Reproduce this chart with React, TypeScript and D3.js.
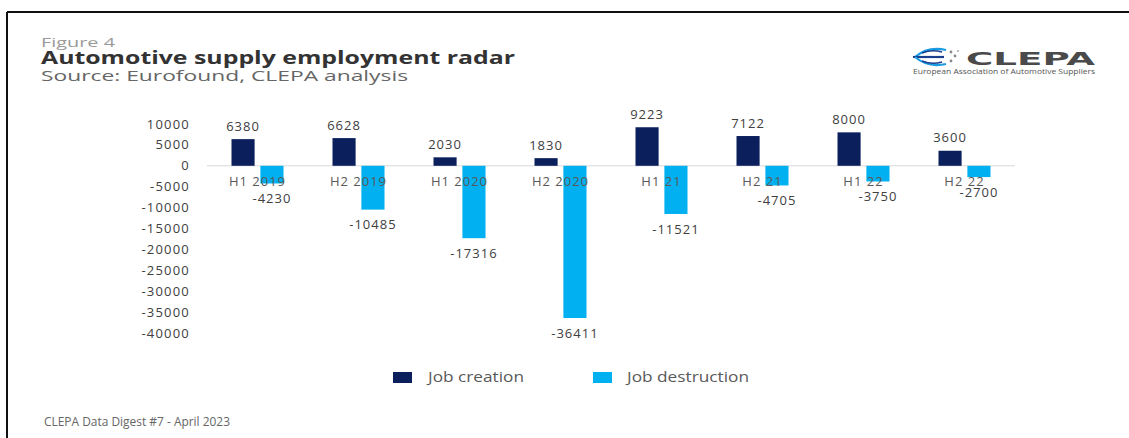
import React from "react";
import * as d3 from "d3";

const categories = ["H1 2019", "H2 2019", "H1 2020", "H2 2020", "H1 21", "H2 21", "H1 22", "H2 22"];
const jobCreation = [6380, 6628, 2030, 1830, 9223, 7122, 8000, 3600];
const jobDestruction = [-4230, -10485, -17316, -36411, -11521, -4705, -3750, -2700];
const yTicks = [10000, 5000, 0, -5000, -10000, -15000, -20000, -25000, -30000, -35000, -40000];
const seriesNames = ["Job creation", "Job destruction"];
const seriesColors = ["#0b1f5c", "#00b0f0"];

const W = 1129;
const H = 438;
const FONT = "'Open Sans', 'DejaVu Sans', sans-serif";

export default function App() {
  const x0 = d3.scaleBand<string>().domain(categories).range([207, 1015]).paddingInner(0).paddingOuter(0);
  const bw = x0.bandwidth();
  const x1 = d3
    .scaleBand<string>()
    .domain(seriesNames)
    .range([bw / 2 - 26, bw / 2 + 26])
    .paddingInner(0.2);
  const y = d3.scaleLinear().domain([-40000, 10000]).range([333, 124]);
  const series = [jobCreation, jobDestruction];

  return (
    <svg
      width={W}
      height={H}
      style={{ position: "absolute", left: 0, top: 0, background: "#fff" }}
      fontFamily={FONT}
    >
      <rect x={0} y={0} width={W} height={H} fill="#fff" />
      {/* border */}
      <line x1={7} y1={12} x2={W} y2={12} stroke="#111" strokeWidth={2} />
      <line x1={7} y1={12} x2={7} y2={H} stroke="#111" strokeWidth={2} />

      {/* header */}
      <text x={41} y={46.5} fontSize={12.5} fill="#9a9a9a" textLength={74} lengthAdjust="spacingAndGlyphs">
        Figure 4
      </text>
      <text x={41} y={63.5} fontSize={17} fontWeight={700} fill="#333" textLength={474} lengthAdjust="spacingAndGlyphs">
        Automotive supply employment radar
      </text>
      <text x={41} y={81} fontSize={15} fill="#666" textLength={367} lengthAdjust="spacingAndGlyphs">
        Source: Eurofound, CLEPA analysis
      </text>

      {/* logo */}
      <g>
        <path d="M915,57 Q928,46 946,50" fill="none" stroke="#1a9be0" strokeWidth={2.2} />
        <path d="M913,57 L944,57" fill="none" stroke="#1a3f8f" strokeWidth={2.2} />
        <path d="M915,57 Q928,68 946,64" fill="none" stroke="#1a9be0" strokeWidth={2.2} />
        <path d="M922,53 Q932,49 942,52" fill="none" stroke="#1a3f8f" strokeWidth={1.4} />
        <path d="M922,61 Q932,65 942,62" fill="none" stroke="#1a3f8f" strokeWidth={1.4} />
        <circle cx={951} cy={52} r={1.4} fill="#888" />
        <circle cx={955} cy={56} r={1.4} fill="#888" />
        <circle cx={951} cy={61} r={1.4} fill="#888" />
        <circle cx={958} cy={51} r={1} fill="#aaa" />
        <text
          x={966}
          y={64.5}
          fontSize={18.5}
          fontWeight={800}
          fill="#4a4a4a"
          fontFamily="'DejaVu Sans', sans-serif"
          textLength={129}
          lengthAdjust="spacingAndGlyphs"
        >
          CLEPA
        </text>
        <text x={913} y={74} fontSize={7} fill="#555" textLength={182} lengthAdjust="spacingAndGlyphs">
          European Association of Automotive Suppliers
        </text>
      </g>

      {/* y ticks */}
      {yTicks.map((t) => (
        <text
          key={t}
          x={190}
          y={y(t)}
          dy="0.35em"
          textAnchor="end"
          fontSize={13}
          letterSpacing={1.2}
          fill="#404040"
        >
          {t}
        </text>
      ))}

      {/* zero line */}
      <line x1={207} x2={1015} y1={y(0)} y2={y(0)} stroke="#d9d9d9" strokeWidth={1} />

      {/* bars */}
      {categories.map((c, i) => (
        <g key={c} transform={`translate(${x0(c)},0)`}>
          {series.map((s, si) => {
            const v = s[i];
            return (
              <rect
                key={si}
                x={x1(seriesNames[si])}
                y={Math.min(y(v), y(0))}
                width={x1.bandwidth()}
                height={Math.abs(y(v) - y(0))}
                fill={seriesColors[si]}
              />
            );
          })}
        </g>
      ))}

      {/* category labels */}
      {categories.map((c) => (
        <text
          key={c}
          x={(x0(c) as number) + bw / 2}
          y={181}
          dy="0.35em"
          textAnchor="middle"
          fontSize={13}
          letterSpacing={1}
          fill="#595959"
        >
          {c}
        </text>
      ))}

      {/* value labels */}
      {categories.map((c, i) =>
        series.map((s, si) => {
          const v = s[i];
          const cx = (x0(c) as number) + (x1(seriesNames[si]) as number) + x1.bandwidth() / 2;
          const cy = v >= 0 ? y(v) - 13 : y(v) + 15;
          return (
            <text
              key={c + si}
              x={cx}
              y={cy}
              dy="0.35em"
              textAnchor="middle"
              fontSize={13}
              letterSpacing={1}
              fill="#404040"
            >
              {v}
            </text>
          );
        })
      )}

      {/* legend */}
      {[
        { sx: 393, tx: 428, tw: 96 },
        { sx: 593, tx: 627, tw: 122 },
      ].map((l, i) => (
        <g key={i}>
          <rect x={l.sx} y={372} width={19} height={11} fill={seriesColors[i]} />
          <text
            x={l.tx}
            y={377.5}
            dy="0.35em"
            fontSize={14}
            fill="#595959"
            textLength={l.tw}
            lengthAdjust="spacingAndGlyphs"
          >
            {seriesNames[i]}
          </text>
        </g>
      ))}

      {/* footer */}
      <text x={44} y={421} dy="0.35em" fontSize={13.5} fill="#666" textLength={186} lengthAdjust="spacingAndGlyphs">
        CLEPA Data Digest #7 - April 2023
      </text>
    </svg>
  );
}
